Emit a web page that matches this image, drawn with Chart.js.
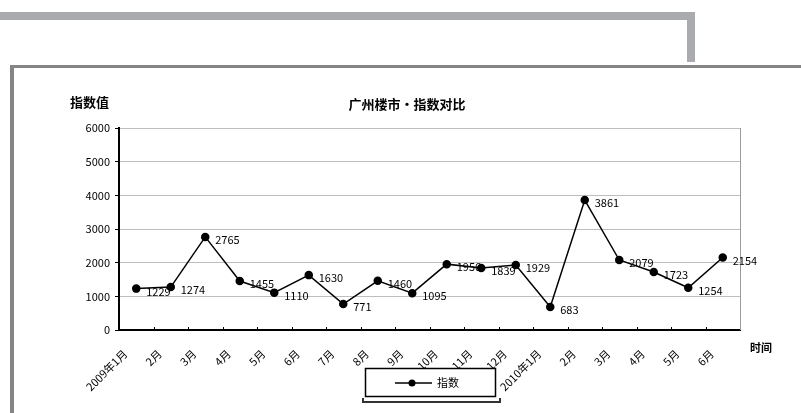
<!DOCTYPE html>
<html>
<head>
<meta charset="utf-8">
<script src="https://cdn.jsdelivr.net/npm/chart.js@4.4.1/dist/chart.umd.min.js"></script>
<style>
html,body{margin:0;padding:0;background:#fff;}
#wrap{position:relative;width:801px;height:413px;}
canvas{position:absolute;left:0;top:0;}
</style>
</head>
<body>
<div id="wrap"><canvas id="c" width="801" height="413"></canvas></div>
<script>
const categories = ["2009年1月","2月","3月","4月","5月","6月","7月","8月","9月","10月","11月","12月","2010年1月","2月","3月","4月","5月","6月"];
const seriesValues = [1229,1274,2765,1455,1110,1630,771,1460,1095,1956,1839,1929,683,3861,2079,1723,1254,2154];
const yTicks = [0,1000,2000,3000,4000,5000,6000];
const seriesName = "指数";
const chartTitle = "广州楼市·指数对比";
const yTitle = "指数值";
const xTitle = "时间";

const FONT = "'Noto Sans CJK SC', 'DejaVu Sans', sans-serif";

const deco = {
  id: 'deco',
  beforeDraw(chart) {
    const ctx = chart.ctx;
    ctx.save();
    ctx.fillStyle = '#fff';
    ctx.fillRect(0, 0, 801, 413);
    ctx.fillStyle = '#a9abae';
    ctx.fillRect(0, 12, 695, 8);
    ctx.fillRect(687, 12, 8, 50);
    ctx.fillStyle = '#858585';
    ctx.fillRect(10, 65, 791, 3);
    ctx.fillRect(10, 65, 4, 348);
    ctx.restore();
  },
  afterDraw(chart) {
    const ctx = chart.ctx;
    const a = chart.chartArea;
    ctx.save();
    ctx.strokeStyle = '#9a9a9a';
    ctx.lineWidth = 1;
    ctx.beginPath();
    ctx.moveTo(a.right + 0.5, a.top);
    ctx.lineTo(a.right + 0.5, a.bottom);
    ctx.stroke();
    ctx.strokeStyle = '#000';
    const n = categories.length;
    const step = (a.right - a.left) / n;
    for (let i = 1; i < n; i++) {
      const x = Math.round(a.left + i * step) + 0.5;
      ctx.beginPath();
      ctx.moveTo(x, a.bottom);
      ctx.lineTo(x, a.bottom - 3);
      ctx.stroke();
    }
    ctx.fillStyle = '#000';
    ctx.font = '11px ' + FONT;
    ctx.textAlign = 'left';
    ctx.textBaseline = 'middle';
    const meta = chart.getDatasetMeta(0);
    meta.data.forEach((pt, i) => {
      ctx.fillText(String(seriesValues[i]), pt.x + 10, pt.y + 3);
    });
    ctx.font = 'bold 13px ' + FONT;
    ctx.textAlign = 'center';
    ctx.fillText(chartTitle, 407, 104);
    ctx.textAlign = 'left';
    ctx.fillText(yTitle, 70, 102);
    ctx.font = 'bold 11px ' + FONT;
    ctx.fillText(xTitle, 750, 348);
    // legend
    ctx.strokeStyle = '#333';
    ctx.lineWidth = 2;
    ctx.beginPath();
    ctx.moveTo(363, 398);
    ctx.lineTo(363, 402);
    ctx.lineTo(500, 402);
    ctx.lineTo(500, 398);
    ctx.stroke();
    ctx.fillStyle = '#fff';
    ctx.fillRect(365, 368, 130, 29);
    ctx.strokeStyle = '#000';
    ctx.lineWidth = 1.5;
    ctx.strokeRect(365.5, 368.5, 130, 28);
    ctx.beginPath();
    ctx.moveTo(395, 383);
    ctx.lineTo(432, 383);
    ctx.stroke();
    ctx.beginPath();
    ctx.arc(412, 383, 3.5, 0, Math.PI * 2);
    ctx.fillStyle = '#000';
    ctx.fill();
    ctx.font = '11px ' + FONT;
    ctx.textAlign = 'left';
    ctx.fillText(seriesName, 437, 383);
    ctx.restore();
  }
};

new Chart(document.getElementById('c'), {
  type: 'line',
  data: {
    labels: categories,
    datasets: [{
      label: seriesName,
      data: seriesValues,
      borderColor: '#000',
      backgroundColor: '#000',
      borderWidth: 1.5,
      pointRadius: 3.5,
      pointHoverRadius: 3.5,
      pointStyle: 'circle',
      tension: 0,
      fill: false
    }]
  },
  options: {
    responsive: false,
    animation: false,
    devicePixelRatio: 1,
    layout: { padding: { left: 0, top: 128, right: 61, bottom: 0 } },
    plugins: { legend: { display: false }, title: { display: false }, tooltip: { enabled: false } },
    scales: {
      x: {
        type: 'category',
        offset: true,
        afterFit(s) { s.height = 83; },
        grid: { display: false, drawTicks: false },
        border: { display: true, color: '#000', width: 2 },
        ticks: {
          color: '#000',
          font: { family: FONT, size: 11 },
          maxRotation: 45, minRotation: 45,
          autoSkip: false,
          padding: 17,
          labelOffset: -11
        }
      },
      y: {
        min: 0, max: 6000,
        afterFit(s) { s.width = 119; },
        afterBuildTicks(s) { s.ticks = yTicks.map(v => ({ value: v })); },
        grid: { color: '#bdbdbd', lineWidth: 1, tickColor: '#000', tickLength: 4 },
        border: { display: true, color: '#000', width: 2 },
        ticks: {
          color: '#000',
          font: { family: FONT, size: 11 },
          padding: 5,
          callback: (v) => String(v)
        }
      }
    }
  },
  plugins: [deco]
});
</script>
</body>
</html>
